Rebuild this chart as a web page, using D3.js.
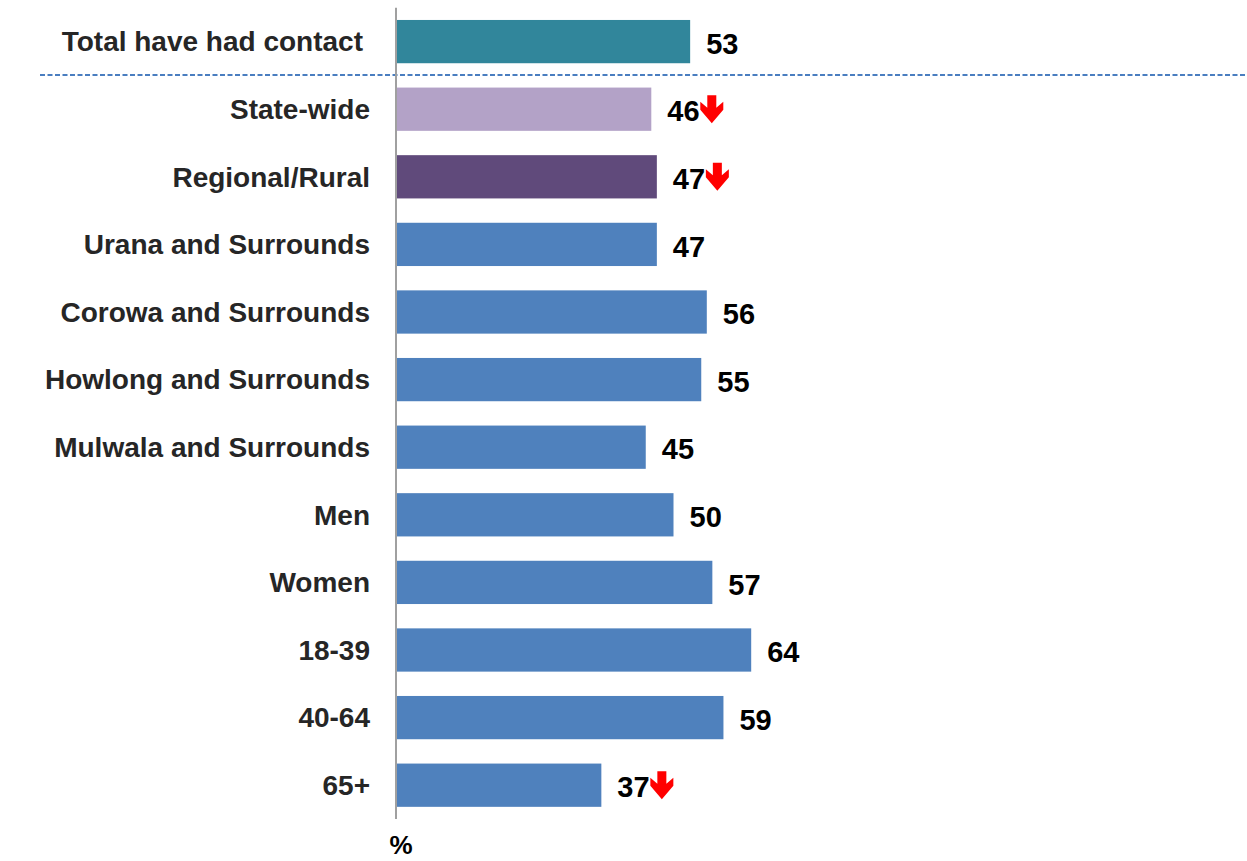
<!DOCTYPE html>
<html>
<head>
<meta charset="utf-8">
<script src="https://cdn.jsdelivr.net/npm/d3@7"></script>
<style>
  html, body { margin: 0; padding: 0; background: #fff; }
  svg { display: block; }
  text { font-family: "Liberation Sans", Arial, sans-serif; font-weight: bold; }
</style>
</head>
<body>
<svg id="chart" width="1247" height="861"></svg>
<script>
// Share of residents who have had contact with the council (%)
const categories = [
  "Total have had contact",
  "State-wide",
  "Regional/Rural",
  "Urana and Surrounds",
  "Corowa and Surrounds",
  "Howlong and Surrounds",
  "Mulwala and Surrounds",
  "Men",
  "Women",
  "18-39",
  "40-64",
  "65+"
];
const values = [53, 46, 47, 47, 56, 55, 45, 50, 57, 64, 59, 37];
// rows flagged as significantly lower than the total
const lowerFlags = [false, true, true, false, false, false, false, false, false, false, false, true];
const barColors = ["#31869b", "#b3a2c7", "#604a7b", "#4f81bd", "#4f81bd", "#4f81bd",
                   "#4f81bd", "#4f81bd", "#4f81bd", "#4f81bd", "#4f81bd", "#4f81bd"];
const unitLabel = "%";

const svg = d3.select("#chart");

const x = d3.scaleLinear().domain([0, 100]).range([396, 951]);
const y = d3.scaleBand()
  .domain(categories)
  .range([7.8, 819])
  .paddingInner(0.36)
  .paddingOuter(0.18);

const rows = categories.map((c, i) => ({ cat: c, v: values[i], low: lowerFlags[i], color: barColors[i], i }));

// soft shadow under the separator line
const defs = svg.append("defs");
defs.append("filter").attr("id", "soft").attr("x", "-5%").attr("y", "-200%").attr("width", "110%").attr("height", "500%")
  .append("feGaussianBlur").attr("stdDeviation", 2.5);

const sepY = Math.round((y(categories[0]) + y.bandwidth() + y(categories[1])) / 2);
svg.append("line")
  .attr("x1", 40).attr("x2", 1247)
  .attr("y1", sepY + 4).attr("y2", sepY + 4)
  .attr("stroke", "#d4d4d4").attr("stroke-width", 4)
  .attr("filter", "url(#soft)");
svg.append("line")
  .attr("x1", 40).attr("x2", 1247)
  .attr("y1", sepY).attr("y2", sepY)
  .attr("stroke", "#4a7ec0").attr("stroke-width", 2)
  .attr("stroke-dasharray", "5,2.5");

// bars
svg.append("g").selectAll("rect").data(rows).join("rect")
  .attr("x", x(0))
  .attr("y", d => y(d.cat))
  .attr("width", d => x(d.v) - x(0))
  .attr("height", y.bandwidth())
  .attr("fill", d => d.color);

// vertical axis line
svg.append("line")
  .attr("x1", x(0)).attr("x2", x(0))
  .attr("y1", y.range()[0]).attr("y2", y.range()[1])
  .attr("stroke", "#a0a0a0").attr("stroke-width", 2);

// category labels
svg.append("g").selectAll("text").data(rows).join("text")
  .attr("x", d => d.i === 0 ? 363 : 370)
  .attr("y", d => y(d.cat) + y.bandwidth() / 2)
  .attr("dy", "0.35em")
  .attr("text-anchor", "end")
  .attr("font-size", 28)
  .attr("fill", "#262626")
  .text(d => d.cat);

// value labels with optional down arrow
const vl = svg.append("g").selectAll("g").data(rows).join("g")
  .attr("transform", d => `translate(${x(d.v) + 16},${y(d.cat) + y.bandwidth() / 2 + 2})`);

vl.append("text")
  .attr("dy", "0.35em")
  .attr("font-size", 29)
  .attr("fill", "#000")
  .text(d => d.v);

vl.filter(d => d.low).append("path")
  .attr("transform", "translate(33,-16)")
  .attr("d", "M7,0 H16 V12.5 L23,6.5 V14.5 L11.5,28 L0,14.5 V6.5 L7,12.5 Z")
  .attr("fill", "#ff0000");

// unit label under the axis
svg.append("text")
  .attr("x", x(0) + 5)
  .attr("y", 854)
  .attr("text-anchor", "middle")
  .attr("font-size", 26)
  .attr("fill", "#000")
  .text(unitLabel);
</script>
</body>
</html>
